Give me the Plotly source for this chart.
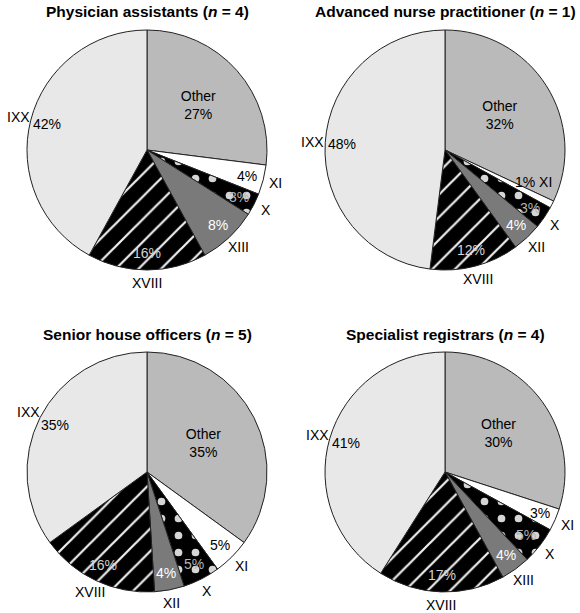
import math
import plotly.graph_objects as go

pa_labels = ["Other", "XI", "X", "XIII", "XVIII", "IXX"]
pa_values = [27, 4, 3, 8, 16, 42]

anp_labels = ["Other", "XI", "X", "XII", "XVIII", "IXX"]
anp_values = [32, 1, 3, 4, 12, 48]

sho_labels = ["Other", "XI", "X", "XII", "XVIII", "IXX"]
sho_values = [35, 5, 5, 4, 16, 35]

sr_labels = ["Other", "XI", "X", "XIII", "XVIII", "IXX"]
sr_values = [30, 3, 5, 4, 17, 41]

titles = [
    "Physician assistants (<i>n</i> = 4)",
    "Advanced nurse practitioner (<i>n</i> = 1)",
    "Senior house officers (<i>n</i> = 5)",
    "Specialist registrars (<i>n</i> = 4)",
]

W, H = 580, 613
FONT = "Arial, Liberation Sans, sans-serif"

slice_colors = ["#bababa", "#ffffff", "#000000", "#7a7a7a", "#000000", "#e8e8e8"]
pattern_shapes = ["", "", ".", "", "/", ""]
pattern_fg = ["#bababa", "#ffffff", "#d6d6d6", "#7a7a7a", "#f0f0f0", "#e8e8e8"]
pattern_size = [16, 16, 17, 16, 16, 16]
pattern_solid = [0.1, 0.1, 0.16, 0.1, 0.14, 0.1]
pct_colors = ["black", "black", "#b4b4b4", "white", "#d4d4d4", "black"]

# pie centres in pixels (x, y from top), outer radius
centres = [(147, 150), (445, 150), (147, 472), (445, 472)]
R = 120
R_PCT = 103    # radius where the % labels sit (just inside the rim)
R_LAB = 133    # radius where the category names sit (just outside)

fig = go.Figure()


def label_at(cx, cy, r, frac, text, color):
    # frac: position around the pie, 0 = 12 o'clock, clockwise
    a = 2 * math.pi * frac
    x = cx + r * math.sin(a)
    y = cy - r * math.cos(a)
    fig.add_annotation(text=text, x=x / W, y=1 - y / H,
                       xref="paper", yref="paper",
                       xanchor="center", yanchor="middle", showarrow=False,
                       font=dict(family=FONT, size=14, color=color))


for (labels, values), (cx, cy), title in zip(
    [(pa_labels, pa_values), (anp_labels, anp_values),
     (sho_labels, sho_values), (sr_labels, sr_values)],
    centres, titles):
    fig.add_trace(go.Pie(
        labels=labels, values=values,
        domain=dict(x=[(cx - R) / W, (cx + R) / W],
                    y=[1 - (cy + R) / H, 1 - (cy - R) / H]),
        sort=False, direction="clockwise", rotation=0,
        marker=dict(colors=slice_colors,
                    line=dict(color="#222222", width=1),
                    pattern=dict(shape=pattern_shapes, fgcolor=pattern_fg,
                                 bgcolor=slice_colors, size=pattern_size,
                                 solidity=pattern_solid)),
        texttemplate=["Other<br>%{value}%"] + [""] * 5,
        textposition="inside",
        insidetextorientation="horizontal",
        textfont=dict(family=FONT, size=14, color="black"),
        showlegend=False, hoverinfo="label+value",
    ))

    total = sum(values)
    cum = 0
    for i, (lab, v) in enumerate(zip(labels, values)):
        start = cum / total
        mid = (cum + v / 2) / total
        cum += v
        if i == 0:
            continue
        if v / total < 0.02:
            # sliver: percentage and name share one line just before it
            label_at(cx, cy, R_PCT - 9, start - 0.015, f"{v}% {lab}", "black")
            continue
        label_at(cx, cy, R_PCT, mid, f"{v}%", pct_colors[i])
        label_at(cx, cy, R_LAB, mid, lab, "black")

    fig.add_annotation(
        text="<b>" + title + "</b>", x=cx / W, y=1 - (cy - R - 18) / H,
        xref="paper", yref="paper", xanchor="center", yanchor="middle",
        showarrow=False, font=dict(family=FONT, size=15.5, color="black"),
    )

fig.update_layout(
    width=W, height=H,
    margin=dict(l=0, r=0, t=0, b=0),
    paper_bgcolor="white", plot_bgcolor="white",
    font=dict(family=FONT),
)

fig.write_html("out.html", config={"displayModeBar": False},
               post_script="document.body.style.margin='0';")
